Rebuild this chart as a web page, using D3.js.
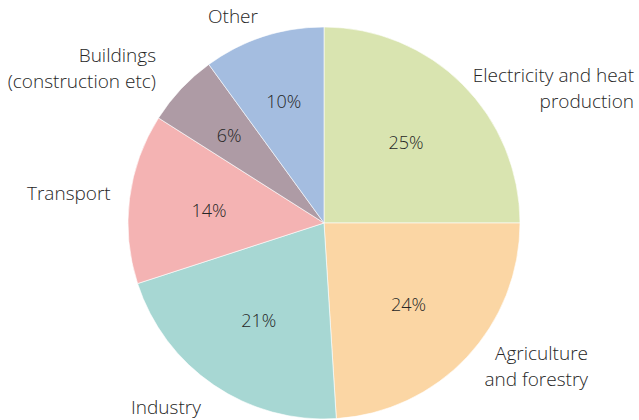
<!DOCTYPE html>
<html>
<head>
<meta charset="utf-8">
<script src="https://cdn.jsdelivr.net/npm/d3@7"></script>
<style>
body { margin: 0; background: #fff; }
text { font-family: "Open Sans", sans-serif; font-weight: 300; fill: #262626; }
</style>
</head>
<body>
<div id="chart"></div>
<script>
// data, clockwise from 12 o'clock
var sectors = ["Electricity and heat production", "Agriculture and forestry", "Industry", "Transport", "Buildings (construction etc)", "Other"];
var shares = [25, 24, 21, 14, 6, 10];
var labelLines = [["Electricity and heat", "production"], ["Agriculture", "and forestry"], ["Industry"], ["Transport"], ["Buildings", "(construction etc)"], ["Other"]];
var colours = ["#d9e4b0", "#fbd6a4", "#a7d7d3", "#f4b3b3", "#ae9ba5", "#a4bde0"];

// where the outer labels sit (layout only)
var outerPos = [
  {x: 634, y: 82, anchor: "end"},
  {x: 588, y: 360, anchor: "end"},
  {x: 131, y: 414, anchor: "start"},
  {x: 27, y: 200, anchor: "start"},
  {x: 156, y: 62, anchor: "end"},
  {x: 233, y: 23, anchor: "middle"}
];

var width = 639, height = 420;
var cx = 324, cy = 223, radius = 196;

var svg = d3.select("#chart").append("svg")
  .attr("width", width)
  .attr("height", height);

var pie = d3.pie().sort(null).value(function(d) { return d; });
var arcs = pie(shares);

var arc = d3.arc().innerRadius(0).outerRadius(radius);

var g = svg.append("g").attr("transform", "translate(" + cx + "," + cy + ")");

g.selectAll("path")
  .data(arcs)
  .enter()
  .append("path")
  .attr("d", arc)
  .attr("fill", function(d, i) { return colours[i]; })
  .attr("stroke", "#fff")
  .attr("stroke-width", 0.6);

// percentage labels inside
g.selectAll("text.pct")
  .data(arcs)
  .enter()
  .append("text")
  .attr("class", "pct")
  .attr("transform", function(d) {
    var r = d.value < 12 ? 130 : 116;
    var a = (d.startAngle + d.endAngle) / 2;
    return "translate(" + (Math.sin(a) * r) + "," + (-Math.cos(a) * r + 2) + ")";
  })
  .attr("text-anchor", "middle")
  .attr("dy", "0.35em")
  .style("font-size", "18px")
  .text(function(d) { return d.value + "%"; });

// outer category labels
labelLines.forEach(function(lines, i) {
  var p = outerPos[i];
  var t = svg.append("text")
    .attr("x", p.x)
    .attr("y", p.y)
    .attr("text-anchor", p.anchor)
    .style("font-size", "19px");
  lines.forEach(function(line, j) {
    t.append("tspan")
      .attr("x", p.x)
      .attr("dy", j === 0 ? 0 : 26)
      .text(line);
  });
});
</script>
</body>
</html>
